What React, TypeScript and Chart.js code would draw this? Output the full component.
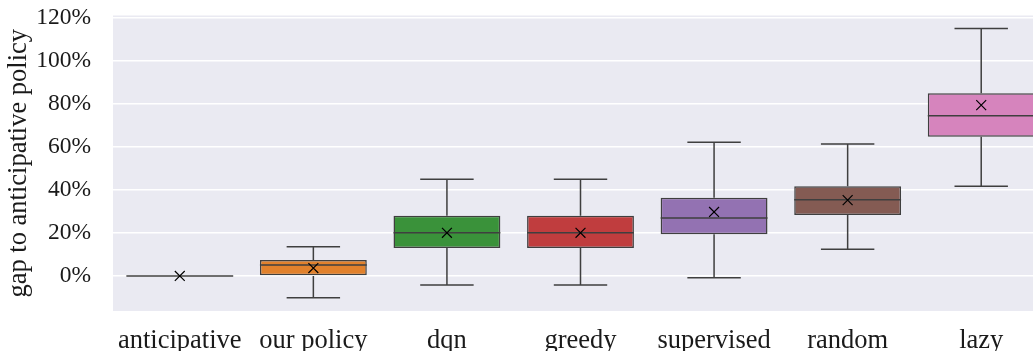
import React, { useEffect, useRef } from "react";
import { Chart, registerables } from "chart.js";

Chart.register(...registerables);

const categories = ["anticipative", "our policy", "dqn", "greedy", "supervised", "random", "lazy"];
const lowerWhisker = [0, -10.1, -4.2, -4.2, -0.8, 12.4, 41.7];
const q1 = [0, 0, 13.0, 13.0, 19.4, 28.4, 64.8];
const median = [0, 5.1, 20.1, 20.1, 27.0, 35.5, 74.6];
const q3 = [0, 7.4, 28.0, 28.0, 36.4, 41.7, 85.0];
const upperWhisker = [0, 13.6, 45.0, 45.0, 62.2, 61.4, 115.2];
const means = [0, 3.7, 20.1, 20.1, 29.8, 35.3, 79.5];
const yTicks = [0, 20, 40, 60, 80, 100, 120];
const boxColors = ["#3274a1", "#e1812c", "#3a923a", "#c03d3e", "#9372b2", "#845b53", "#d684bd"];

const EDGE = "#3f3f3f";
const FONT = "'Liberation Serif', 'Times New Roman', serif";

const bgPlugin = {
  id: "bgPlugin",
  beforeDraw(chart: any) {
    const { ctx, chartArea } = chart;
    ctx.save();
    ctx.fillStyle = "#eaeaf2";
    ctx.fillRect(chartArea.left, chartArea.top, chartArea.right - chartArea.left, chartArea.bottom - chartArea.top);
    ctx.restore();
  },
};

const boxPlugin = {
  id: "boxPlugin",
  afterDatasetDraw(chart: any, args: any) {
    if (args.index !== 0) return;
    const { ctx } = chart;
    const yScale = chart.scales.y;
    const meta = chart.getDatasetMeta(0);
    ctx.save();
    ctx.strokeStyle = EDGE;
    ctx.lineWidth = 1.5;
    meta.data.forEach((bar: any, i: number) => {
      const x = bar.x;
      const w = bar.width;
      const yQ1 = yScale.getPixelForValue(q1[i]);
      const yQ3 = yScale.getPixelForValue(q3[i]);
      const yLo = yScale.getPixelForValue(lowerWhisker[i]);
      const yHi = yScale.getPixelForValue(upperWhisker[i]);
      const yMed = yScale.getPixelForValue(median[i]);
      ctx.beginPath();
      if (yHi < yQ3) {
        ctx.moveTo(x, yQ3);
        ctx.lineTo(x, yHi);
        ctx.moveTo(x - w / 4, yHi);
        ctx.lineTo(x + w / 4, yHi);
      }
      if (yLo > yQ1) {
        ctx.moveTo(x, yQ1);
        ctx.lineTo(x, yLo);
        ctx.moveTo(x - w / 4, yLo);
        ctx.lineTo(x + w / 4, yLo);
      }
      ctx.moveTo(x - w / 2, yMed);
      ctx.lineTo(x + w / 2, yMed);
      ctx.stroke();
    });
    ctx.restore();
  },
};

export default function App() {
  const canvasRef = useRef<HTMLCanvasElement | null>(null);

  useEffect(() => {
    document.body.style.margin = "0";
    const canvas = canvasRef.current;
    if (!canvas) return;
    const chart = new Chart(canvas, {
      type: "bar",
      data: {
        labels: categories,
        datasets: [
          {
            type: "bar",
            data: categories.map((_, i) => [q1[i], q3[i]]),
            backgroundColor: boxColors,
            borderColor: EDGE,
            borderWidth: 1.5,
            borderSkipped: false,
            barPercentage: 0.8,
            categoryPercentage: 1,
            order: 2,
          } as any,
          {
            type: "line",
            data: means,
            showLine: false,
            pointStyle: "crossRot",
            pointRadius: 7,
            pointBorderColor: "#000000",
            pointBackgroundColor: "#000000",
            pointBorderWidth: 1.2,
            order: 1,
          } as any,
        ],
      },
      options: {
        animation: false,
        responsive: false,
        maintainAspectRatio: false,
        events: [],
        layout: { padding: { left: 0, top: 15.5, right: 12, bottom: 0 } },
        plugins: { legend: { display: false }, tooltip: { enabled: false } },
        scales: {
          x: {
            type: "category",
            offset: true,
            grid: { display: false, drawTicks: false },
            border: { display: false },
            ticks: { color: "#1a1a1a", padding: 14, font: { family: FONT, size: 26.5 }, maxRotation: 0, autoSkip: false },
            afterFit(scale: any) {
              scale.height = 370 - 311;
              scale.paddingLeft = 0;
              scale.paddingRight = 0;
            },
          },
          y: {
            type: "linear",
            min: -16.3,
            max: 121.2,
            grid: { color: "#ffffff", lineWidth: 1.5, drawTicks: false },
            border: { display: false },
            ticks: {
              color: "#1a1a1a",
              padding: 22,
              font: { family: FONT, size: 23.5 },
              callback: (v: any) => `${v}%`,
            },
            afterBuildTicks(scale: any) {
              scale.ticks = yTicks.map((v) => ({ value: v }));
            },
            afterFit(scale: any) {
              scale.width = 113;
              scale.paddingTop = 0;
              scale.paddingBottom = 0;
            },
            title: {
              display: true,
              text: "gap to anticipative policy",
              color: "#1a1a1a",
              font: { family: FONT, size: 26.5 },
              padding: { top: 3, bottom: 0 },
            },
          },
        },
      },
      plugins: [bgPlugin, boxPlugin],
    });
    return () => chart.destroy();
  }, []);

  return (
    <div style={{ position: "fixed", left: 0, top: 0, width: 1033, height: 351, overflow: "hidden", background: "#ffffff" }}>
      <canvas ref={canvasRef} width={1060} height={370} style={{ display: "block", width: 1060, height: 370 }} />
    </div>
  );
}
